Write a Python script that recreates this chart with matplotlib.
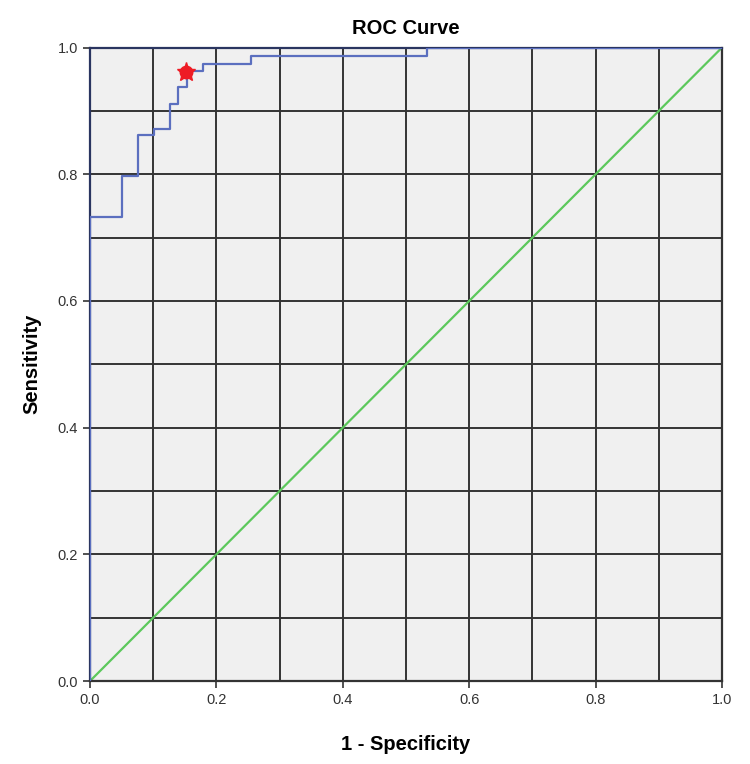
import numpy as np
import matplotlib
matplotlib.use('Agg')
import matplotlib.pyplot as plt

plt.rcParams['font.family'] = ['Liberation Sans', 'DejaVu Sans']

# ROC curve step points (1 - specificity, sensitivity)
fpr = [0.0, 0.0, 0.050, 0.050, 0.0765, 0.0765, 0.101, 0.101, 0.127, 0.127,
       0.140, 0.140, 0.153, 0.153, 0.178, 0.178, 0.254, 0.254, 0.533, 0.533, 1.0]
tpr = [0.0, 0.733, 0.733, 0.797, 0.797, 0.862, 0.862, 0.872, 0.872, 0.911,
       0.911, 0.938, 0.938, 0.963, 0.963, 0.974, 0.974, 0.987, 0.987, 1.0, 1.0]

# reference (diagonal) line
ref_x = [0.0, 1.0]
ref_y = [0.0, 1.0]

# chosen cut-off point
cut_x = [0.152]
cut_y = [0.962]

fig = plt.figure(figsize=(7.5, 7.64), dpi=100)
ax = fig.add_axes([0.12, 0.1086, 0.8427, 0.8292])
ax.set_facecolor('#f0f0f0')

# grid every 0.1
for v in np.arange(0.1, 1.0, 0.1):
    ax.axvline(v, color='#333333', lw=1.4, zorder=1)
    ax.axhline(v, color='#333333', lw=1.4, zorder=1)

ax.plot(ref_x, ref_y, color='#5cc85c', lw=1.6, zorder=2)
ax.plot(fpr, tpr, color='#5b6fbf', lw=1.6, zorder=3)
# rounded star-like marker
ax.plot(cut_x, cut_y, marker='o', color='#ee1c25', markersize=9, zorder=4, linestyle='none')
ax.plot(cut_x, cut_y, marker='*', color='#ee1c25', markersize=14, zorder=4, linestyle='none')

ax.set_xlim(0, 1)
ax.set_ylim(0, 1)
ax.set_xticks([0.0, 0.2, 0.4, 0.6, 0.8, 1.0])
ax.set_yticks([0.0, 0.2, 0.4, 0.6, 0.8, 1.0])
ax.set_xticklabels(['0.0', '0.2', '0.4', '0.6', '0.8', '1.0'])
ax.set_yticklabels(['0.0', '0.2', '0.4', '0.6', '0.8', '1.0'])
ax.tick_params(direction='out', length=5, width=1.2, color='#333333',
               labelcolor='#333333', labelsize=10.5)

for name, sp in ax.spines.items():
    sp.set_linewidth(1.6)
    sp.set_color('#333333')
ax.spines['left'].set_color('#2a3560')
ax.spines['top'].set_color('#2a3560')

ax.set_title('ROC Curve', fontsize=14.5, fontweight='bold', pad=10)
ax.set_xlabel('1 - Specificity', fontsize=14.5, fontweight='bold', labelpad=20)
ax.set_ylabel('Sensitivity', fontsize=14.5, fontweight='bold', labelpad=12)

fig.savefig('out.png', dpi=100)
